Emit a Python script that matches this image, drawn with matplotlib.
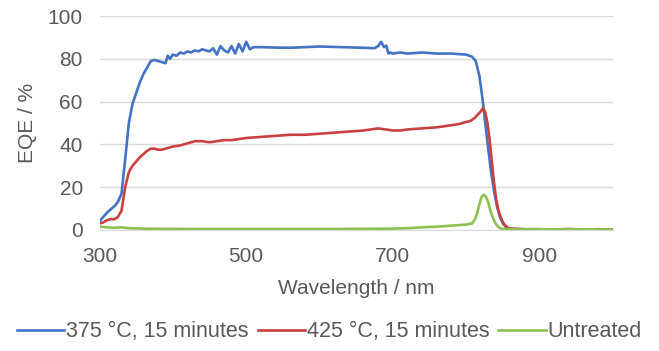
import matplotlib
matplotlib.use("Agg")
import matplotlib.pyplot as plt

plt.rcParams["font.family"] = ["Liberation Sans", "DejaVu Sans"]

# wavelength (nm) / EQE (%)
wl_375 = [300, 305, 310, 315, 320, 325, 330, 335, 340, 345, 350, 355, 360, 365, 370, 375,
          380, 385, 390, 393, 396, 400, 405, 410, 415, 420, 425, 430, 435, 440, 445, 450,
          455, 460, 465, 470, 475, 480, 485, 490, 495, 500, 505, 510, 520, 540, 560, 580,
          600, 620, 640, 660, 675, 680, 684, 688, 691, 694, 697, 700, 710, 720, 740, 760,
          780, 800, 808, 813, 818, 822, 826, 830, 834, 838, 842, 846, 850, 855, 860, 880,
          900, 920, 940, 960, 980, 1000]
eqe_375 = [4, 6, 8, 9.5, 11, 13, 17, 33, 50, 59, 64, 69, 73, 76, 79, 79.5,
           79, 78.5, 78, 81.5, 80, 82, 81.5, 83, 82.5, 83.5, 83, 84, 83.5, 84.5, 84, 83.5,
           85, 82, 86, 84, 83, 86, 82.5, 87, 83.5, 88, 84.5, 85.5, 85.5, 85.3, 85.2, 85.5,
           85.8, 85.6, 85.4, 85.2, 85, 86, 88, 85.5, 86.2, 82.5, 83, 82.5, 83, 82.5, 83, 82.5,
           82.5, 82, 81, 79, 72, 62, 50, 38, 27, 18, 11, 6, 3, 1, 0.4, 0.3,
           0.3, 0.2, 0.3, 0.2, 0.3, 0.2]

wl_425 = [300, 305, 310, 315, 320, 325, 330, 335, 340, 345, 350, 355, 360, 365, 370, 375,
          380, 385, 390, 400, 410, 420, 430, 440, 450, 460, 470, 480, 490, 500, 520, 540,
          560, 580, 600, 620, 640, 660, 680, 690, 700, 710, 720, 740, 760, 780, 790, 800,
          806, 812, 816, 820, 823, 826, 829, 832, 835, 838, 841, 844, 848, 852, 858, 880,
          900, 920, 940, 960, 980, 1000]
eqe_425 = [3, 3.5, 4.5, 5, 5, 6, 9, 20, 27, 30, 32, 34, 35.5, 37, 38, 38,
           37.5, 37.5, 38, 39, 39.5, 40.5, 41.5, 41.5, 41, 41.5, 42, 42, 42.5, 43, 43.5, 44,
           44.5, 44.5, 45, 45.5, 46, 46.5, 47.5, 47, 46.5, 46.5, 47, 47.5, 48, 49, 49.5, 50.5,
           51, 52.5, 54, 55.5, 57, 55, 50, 42, 32, 22, 14, 9, 5, 2.5, 0.7, 0.3,
           0.3, 0.2, 0.4, 0.2, 0.3, 0.2]

wl_untreated = [300, 310, 320, 330, 340, 360, 380, 400, 450, 500, 550, 600, 650, 700, 720,
                740, 760, 780, 800, 808, 812, 815, 818, 821, 824, 827, 830, 833, 836, 840,
                845, 850, 870, 900, 950, 1000]
eqe_untreated = [1.5, 1.2, 1, 1.2, 0.8, 0.6, 0.5, 0.5, 0.4, 0.4, 0.4, 0.4, 0.5, 0.6, 0.8,
                 1.2, 1.5, 2, 2.5, 3, 5, 8, 12, 15.5, 16.5, 15.5, 13, 9, 6, 3,
                 1, 0.4, 0.3, 0.3, 0.3, 0.2]

series = [
    ("375 °C, 15 minutes", wl_375, eqe_375, "#4472c4"),
    ("425 °C, 15 minutes", wl_425, eqe_425, "#c9413f"),
    ("Untreated", wl_untreated, eqe_untreated, "#8fc04f"),
]

txt = "#595959"
fs = 15
fig = plt.figure(figsize=(6.59, 3.51), dpi=100)
ax = fig.add_axes([0.151, 0.345, 0.779, 0.609])

for label, x, y, c in series:
    ax.plot(x, y, color=c, lw=1.9, label=label)

ax.set_xlim(300, 1000)
ax.set_ylim(0, 100)
ax.set_xticks([300, 500, 700, 900])
ax.set_yticks(range(0, 101, 20))
ax.grid(axis="y", color="#d9d9d9", lw=1)
ax.set_axisbelow(True)
for s in ["top", "right", "left"]:
    ax.spines[s].set_visible(False)
ax.spines["bottom"].set_color("#d9d9d9")
ax.tick_params(length=0, labelsize=fs, colors=txt)
ax.tick_params(axis="x", pad=12)
ax.tick_params(axis="y", pad=12)
ax.set_xlabel("Wavelength / nm", fontsize=fs, color=txt, labelpad=10)
ax.set_ylabel("EQE / %", fontsize=fs, color=txt, labelpad=8)

leg = fig.legend(loc="center", bbox_to_anchor=(0.5, 0.055), ncol=3, frameon=False,
                 fontsize=15.5, handlelength=2.2, handletextpad=0.1, columnspacing=0.4,
                 labelcolor=txt)

fig.savefig("out.png", dpi=100)
